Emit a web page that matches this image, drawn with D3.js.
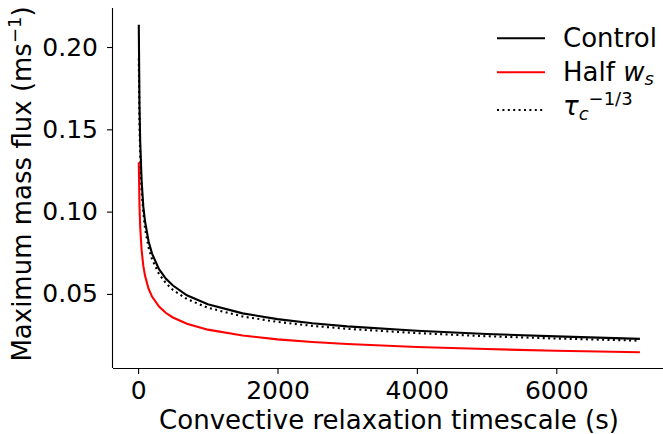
<!DOCTYPE html>
<html>
<head>
<meta charset="utf-8">
<script src="https://cdn.jsdelivr.net/npm/d3@7"></script>
<style>
  body { margin: 0; background: #fff; }
  svg { display: block; font-family: "DejaVu Sans", sans-serif; }
</style>
</head>
<body>
<div id="chart"></div>
<script>
// timescale samples (s)
var tau = [10, 20, 30, 50, 75, 100, 150, 200, 300, 400, 500, 700, 1000, 1500, 2000, 2500, 3000, 4000, 5000, 6000, 7200];

var control = [0.2135, 0.165, 0.143, 0.119, 0.103, 0.094, 0.082, 0.0745, 0.065, 0.0592, 0.0551, 0.0492, 0.0437, 0.0382, 0.0347, 0.0322, 0.0303, 0.0276, 0.0257, 0.0242, 0.0227];
var halfWs = [0.130, 0.104, 0.091, 0.0768, 0.0670, 0.0610, 0.0532, 0.0484, 0.0423, 0.0384, 0.0357, 0.0319, 0.0283, 0.0247, 0.0224, 0.0208, 0.0196, 0.0178, 0.0165, 0.0155, 0.0146];
var powerLaw = [0.193, 0.153, 0.134, 0.113, 0.0990, 0.0896, 0.0783, 0.0711, 0.0621, 0.0565, 0.0524, 0.0469, 0.0416, 0.0363, 0.0330, 0.0306, 0.0288, 0.0262, 0.0243, 0.0229, 0.0216];

var xTicks = [0, 2000, 4000, 6000];
var yTicks = [0.05, 0.10, 0.15, 0.20];

var W = 663, H = 434;
var fs = 26, tickFs = 25;

var svg = d3.select("#chart").append("svg")
  .attr("width", W)
  .attr("height", H);

var x = d3.scaleLinear().domain([-360, 7560]).range([113, 665]);
var y = d3.scaleLinear().domain([0.005, 0.2237]).range([368, 8]);

var line = d3.line()
  .x(function(d) { return x(d[0]); })
  .y(function(d) { return y(d[1]); });

function pairs(v) {
  return tau.map(function(t, i) { return [t, v[i]]; });
}

var series = [
  { vals: control, color: "#000", dash: null },
  { vals: halfWs, color: "#ff0000", dash: null },
  { vals: powerLaw, color: "#000", dash: "2,3.4" }
];

// dotted drawn last so it sits over the control line
svg.append("g").selectAll("path")
  .data(series)
  .enter()
  .append("path")
  .attr("d", function(d) { return line(pairs(d.vals)); })
  .attr("fill", "none")
  .attr("stroke", function(d) { return d.color; })
  .attr("stroke-width", 2.1)
  .attr("stroke-dasharray", function(d) { return d.dash; });

// axes
var xAxis = svg.append("g")
  .attr("transform", "translate(0,368)")
  .call(d3.axisBottom(x).tickValues(xTicks).tickFormat(d3.format("d")).tickSize(6).tickPadding(7));
var yAxis = svg.append("g")
  .attr("transform", "translate(113,0)")
  .call(d3.axisLeft(y).tickValues(yTicks).tickFormat(d3.format(".2f")).tickSize(6).tickPadding(9));

[xAxis, yAxis].forEach(function(g) {
  g.selectAll("text").attr("font-size", tickFs).attr("font-family", "DejaVu Sans").attr("fill", "#000");
  g.selectAll("line").attr("stroke", "#000").attr("stroke-width", 1.1);
  g.select(".domain").attr("stroke", "#000").attr("stroke-width", 1.1);
});
// no outer ticks on the spines
xAxis.select(".domain").attr("d", "M113,0.5H665");
yAxis.select(".domain").attr("d", "M-0.5,8V368");

// axis labels
svg.append("text")
  .attr("x", 389)
  .attr("y", 429)
  .attr("text-anchor", "middle")
  .attr("font-size", fs)
  .text("Convective relaxation timescale (s)");

var yl = svg.append("text")
  .attr("transform", "translate(31,184) rotate(-90)")
  .attr("text-anchor", "middle")
  .attr("font-size", fs);
yl.append("tspan").text("Maximum mass flux (ms");
yl.append("tspan").attr("dy", -10).attr("font-size", 18).text("\u22121");
yl.append("tspan").attr("dy", 10).text(")");

// legend
var legend = svg.append("g");
var rows = [
  { y: 38.3, color: "#000", dash: null },
  { y: 72.3, color: "#ff0000", dash: null },
  { y: 110, color: "#000", dash: "2,3.4" }
];
legend.selectAll("line")
  .data(rows)
  .enter()
  .append("line")
  .attr("x1", 497)
  .attr("x2", 545)
  .attr("y1", function(d) { return d.y; })
  .attr("y2", function(d) { return d.y; })
  .attr("stroke", function(d) { return d.color; })
  .attr("stroke-width", 2.1)
  .attr("stroke-dasharray", function(d) { return d.dash; });

legend.append("text")
  .attr("x", 563).attr("y", 47)
  .attr("font-size", fs)
  .text("Control");

var t2 = legend.append("text")
  .attr("x", 563).attr("y", 81)
  .attr("font-size", fs);
t2.append("tspan").text("Half ");
t2.append("tspan").attr("font-style", "italic").text("w");
t2.append("tspan").attr("font-style", "italic").attr("font-size", 18).attr("dy", 4).text("s");

var t3 = legend.append("text")
  .attr("x", 563).attr("y", 115)
  .attr("font-size", fs);
t3.append("tspan").attr("font-style", "italic").text("\u03c4");
t3.append("tspan").attr("font-style", "italic").attr("font-size", 18).attr("dy", 5).text("c");
t3.append("tspan").attr("font-size", 18).attr("dy", -15).text("\u22121/3");
</script>
</body>
</html>
